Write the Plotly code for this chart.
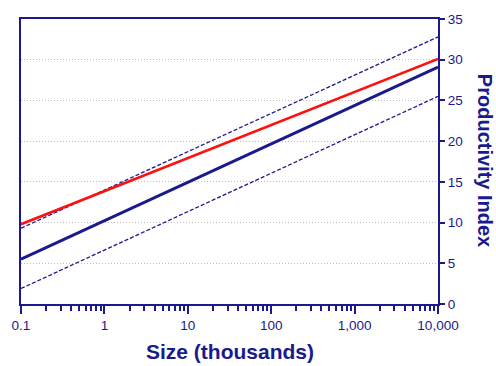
import plotly.graph_objects as go

# Data (x on log scale, thousands)
size_x = [0.1, 10000]
red_line = [9.8, 30.1]
fit_line = [5.5, 29.1]
upper_band = [9.3, 32.8]
lower_band = [1.9, 25.5]

x_tickvals = [0.1, 1, 10, 100, 1000, 10000]
x_ticktext = ["0.1", "1", "10", "100", "1,000", "10,000"]
y_tickvals = [0, 5, 10, 15, 20, 25, 30, 35]

NAVY = "#1a1a8c"
W, H = 496, 366
ML, MR, MT, MB = 18, 58, 12, 62
TICKFONT = "Arial, Liberation Sans, sans-serif"
TITLEFONT = "Arial, Liberation Sans, sans-serif"

minor_vals = [m * 10 ** e for e in range(-1, 4) for m in range(2, 10)]

fig = go.Figure()
fig.add_trace(go.Scatter(x=size_x, y=upper_band, mode="lines",
                         line=dict(color=NAVY, width=1.3, dash="4px,2px"), showlegend=False))
fig.add_trace(go.Scatter(x=size_x, y=lower_band, mode="lines",
                         line=dict(color=NAVY, width=1.3, dash="4px,2px"), showlegend=False))
fig.add_trace(go.Scatter(x=size_x, y=fit_line, mode="lines",
                         line=dict(color=NAVY, width=3), showlegend=False))
fig.add_trace(go.Scatter(x=size_x, y=red_line, mode="lines",
                         line=dict(color="#ff1010", width=2.6), showlegend=False))

plot_w = W - ML - MR
plot_h = H - MT - MB

fig.update_layout(
    width=W, height=H,
    margin=dict(l=ML, r=MR, t=MT, b=MB),
    paper_bgcolor="white", plot_bgcolor="white",
    font=dict(family=TITLEFONT, color=NAVY, size=13),
    xaxis=dict(
        type="log", range=[-1, 4],
        tickvals=x_tickvals, ticktext=x_ticktext,
        ticks="outside", ticklen=8, tickwidth=1.5, tickcolor=NAVY,
        showline=True, linecolor=NAVY, linewidth=2, mirror=True,
        showgrid=False, zeroline=False,
        minor=dict(tickvals=minor_vals, ticks="outside", ticklen=5,
                   tickwidth=1.5, tickcolor=NAVY, showgrid=False),
        tickfont=dict(family=TICKFONT, size=13.5, color=NAVY),
    ),
    yaxis=dict(
        side="right", range=[0, 35],
        tickvals=y_tickvals,
        ticks="outside", ticklen=5, tickwidth=1.5, tickcolor=NAVY,
        showline=True, linecolor=NAVY, linewidth=2, mirror=True,
        showgrid=True, gridcolor="#bdbdbd", griddash="1px,2px", gridwidth=1,
        zeroline=False,
        tickfont=dict(family=TICKFONT, size=13.5, color=NAVY),
    ),
    annotations=[
        dict(text="<b>Size (thousands)</b>",
             x=(228 - ML) / plot_w, y=-(353 - (H - MB)) / plot_h,
             xref="paper", yref="paper",
             xanchor="center", yanchor="middle", showarrow=False,
             font=dict(family=TITLEFONT, size=21, color=NAVY)),
        dict(text="<b>Productivity Index</b>",
             x=(486 - ML) / plot_w, y=((H - MB) - 157) / plot_h,
             xref="paper", yref="paper",
             xanchor="center", yanchor="middle",
             showarrow=False, textangle=90,
             font=dict(family=TITLEFONT, size=20, color=NAVY)),
    ],
)

fig.write_html(
    "out.html",
    config={"displayModeBar": False},
    post_script="document.body.style.margin='0';document.body.style.overflow='hidden';",
)
